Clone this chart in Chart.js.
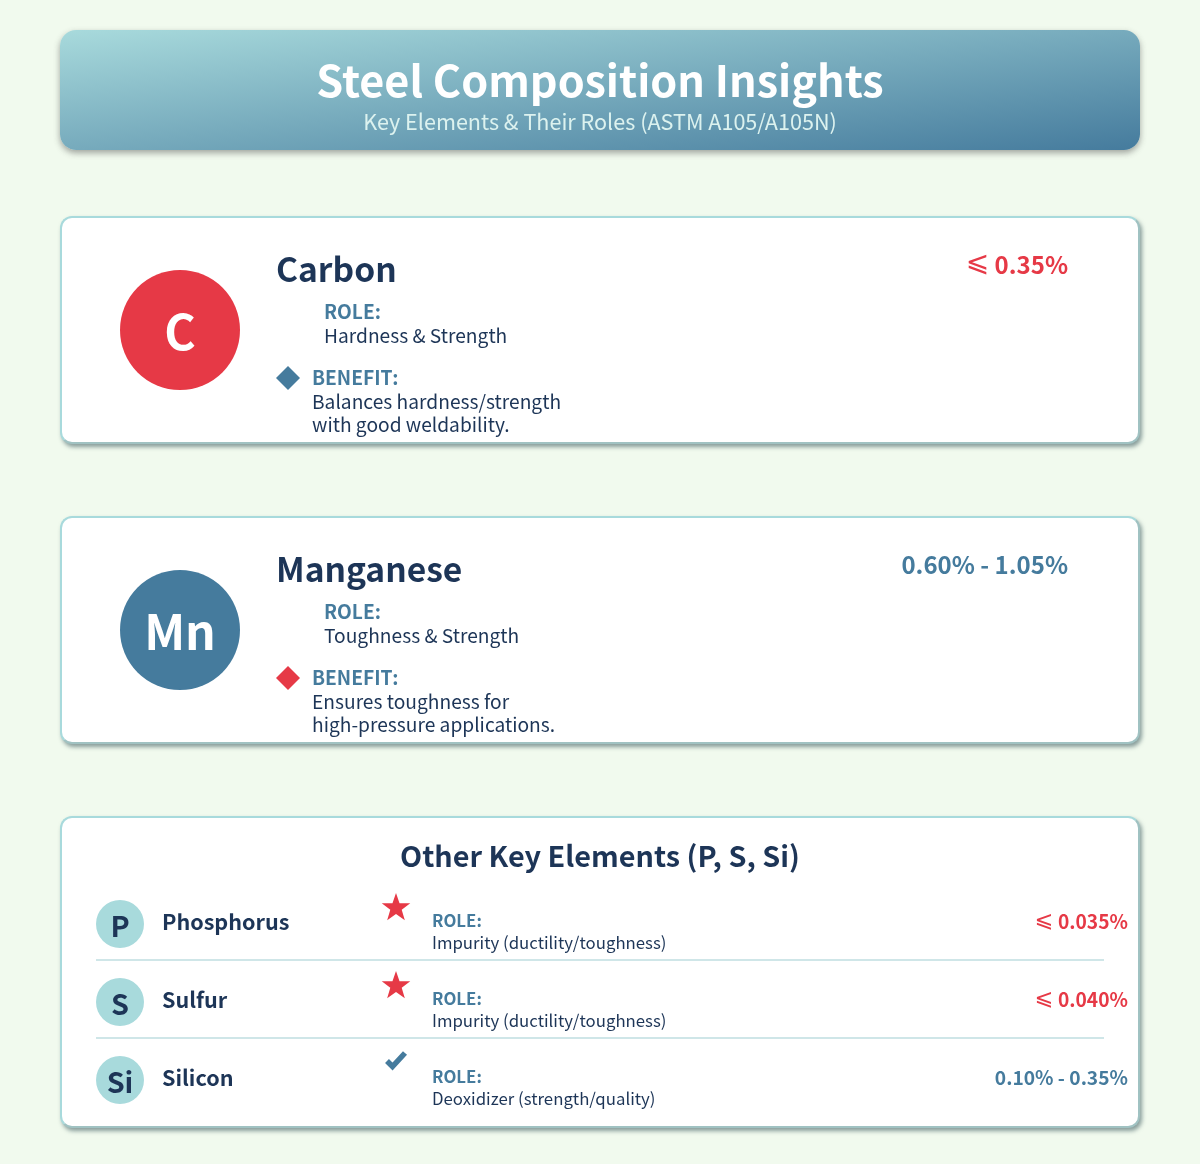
<!DOCTYPE html>
<html>
<head>
<meta charset="utf-8">
<title>Steel Composition Insights</title>
<script src="https://cdn.jsdelivr.net/npm/chart.js@4"></script>
<style>
html, body { margin: 0; padding: 0; }
body { width: 1200px; height: 1164px; position: relative; overflow: hidden; background: #f1faee;
       font-family: "Noto Sans CJK SC", "Noto Sans", sans-serif; color: #1d3557; }
#marks { position: absolute; left: 0; top: 0; width: 1200px; height: 1164px; pointer-events: none; }
.t { position: absolute; white-space: nowrap; line-height: 1; z-index: 2; }
.slot { position: absolute; }
.le { font-family: "DejaVu Sans", sans-serif; font-weight: 400; font-size: 1.17em; line-height: 0; position: relative; top: -0.09em; }

.header { position: absolute; left: 60px; top: 30px; width: 1080px; height: 120px; border-radius: 16px;
          background: linear-gradient(to bottom right, #a8dadc 0%, #457b9d 100%); box-shadow: 0 3px 6px rgba(60,60,60,.45); }
.title { left: 0; width: 1200px; text-align: center; font-size: 43.2px; font-weight: 700; color: #fff; }
.subtitle { left: 0; width: 1200px; text-align: center; font-size: 21.6px; color: #dcf2ef; }

.card { position: absolute; left: 60px; width: 1076px; background: #fff; border: 2px solid #a8dadc; border-right-color: #a0c2c2;
        border-bottom-color: #a0c2c2; border-radius: 12px; box-shadow: 2px 3px 4px rgba(50,80,85,.55); }
.c0 { top: 216px; height: 224px; } .c1 { top: 516px; height: 224px; } .c2 { top: 816px; height: 308px; }

.disc { left: 120px; width: 120px; height: 120px; }
.sym { left: 120px; width: 120px; text-align: center; font-size: 48px; font-weight: 700; color: #fff; }
.name { left: 276px; font-size: 33.6px; font-weight: 700; }
.range { right: 132px; font-size: 24px; font-weight: 700; }
.label { font-size: 19.2px; font-weight: 700; color: #457b9d; }
.text { font-size: 19.2px; color: #1d3557; }
.role { left: 324px; }
.benefit { left: 312px; }
.bullet { left: 276px; width: 24px; height: 24px; }

.other { left: 0; width: 1200px; text-align: center; font-size: 28.8px; font-weight: 700; }
.rdisc { left: 96px; width: 48px; height: 48px; }
.rsym { left: 96px; width: 48px; text-align: center; font-size: 28.8px; font-weight: 700; }
.rname { left: 162px; font-size: 21.6px; font-weight: 700; }
.rmark { left: 381px; width: 30px; height: 30px; }
.rlabel { left: 432px; font-size: 16.8px; font-weight: 700; color: #457b9d; }
.rtext { left: 432px; font-size: 16.8px; color: #1d3557; }
.rrange { right: 72px; font-size: 19.2px; font-weight: 700; }
.rule { position: absolute; left: 96px; width: 1008px; height: 2px; background: #cfe6e8; }
</style>
</head>
<body>
<div class="header"></div>
<div class="card c0"></div>
<div class="card c1"></div>
<div class="card c2"></div>
<canvas id="marks" width="1200" height="1164"></canvas>
<div id="page"></div>

<script>
// DATA
const pageTitle = 'Steel Composition Insights';
const pageSubtitle = 'Key Elements & Their Roles (ASTM A105/A105N)';
const otherTitle = 'Other Key Elements (P, S, Si)';

const mainNames = ['Carbon', 'Manganese'];
const mainSymbols = ['C', 'Mn'];
const mainRanges = ['⩽ 0.35%', '0.60% - 1.05%'];
const mainRoles = ['Hardness & Strength', 'Toughness & Strength'];
const mainBenefits = [
    ['Balances hardness/strength', 'with good weldability.'],
    ['Ensures toughness for', 'high-pressure applications.']
];
const mainColors = ['#e63946', '#457b9d'];
const bulletColors = ['#457b9d', '#e63946'];

const otherNames = ['Phosphorus', 'Sulfur', 'Silicon'];
const otherSymbols = ['P', 'S', 'Si'];
const otherRanges = ['⩽ 0.035%', '⩽ 0.040%', '0.10% - 0.35%'];
const otherRoles = ['Impurity (ductility/toughness)', 'Impurity (ductility/toughness)', 'Deoxidizer (strength/quality)'];
const otherMarks = ['star', 'star', 'check'];

// LAYOUT (vertical steps of the repeated blocks)
const cardStep = 300;
const rowStep = 78;

const page = document.getElementById('page');

function addText(cls, text, top, color) {
    const el = document.createElement('div');
    el.className = 't ' + cls;
    el.style.top = top + 'px';
    if (color) el.style.color = color;
    if (text.startsWith('⩽')) {
        const le = document.createElement('span');
        le.className = 'le';
        le.textContent = '⩽';
        el.appendChild(le);
        el.appendChild(document.createTextNode(text.slice(1)));
    } else {
        el.textContent = text;
    }
    page.appendChild(el);
}

function addSlot(cls, top) {
    const el = document.createElement('div');
    el.className = 'slot ' + cls;
    el.style.top = top + 'px';
    page.appendChild(el);
    return el;
}

addText('title', pageTitle, 57);
addText('subtitle', pageSubtitle, 110);

const discSlots = [];
const bulletSlots = [];
mainNames.forEach((name, i) => {
    const d = i * cardStep;
    discSlots.push(addSlot('disc', 270 + d));
    addText('sym', mainSymbols[i], 305 + d);
    addText('name', name, 251 + d);
    addText('range', mainRanges[i], 252 + d, mainColors[i]);
    addText('label role', 'ROLE:', 302 + d);
    addText('text role', mainRoles[i], 325.5 + d);
    bulletSlots.push(addSlot('bullet', 366 + d));
    addText('label benefit', 'BENEFIT:', 368 + d);
    mainBenefits[i].forEach((line, k) => {
        addText('text benefit', line, 391.5 + d + k * 23);
    });
});

addText('other', otherTitle, 841);
const rowDiscSlots = [];
const rowMarkSlots = [];
otherNames.forEach((name, i) => {
    const d = i * rowStep;
    rowDiscSlots.push(addSlot('rdisc', 900 + d));
    addText('rsym', otherSymbols[i], 911 + d);
    addText('rname', name, 910 + d);
    rowMarkSlots.push(addSlot('rmark', 892 + d));
    addText('rlabel', 'ROLE:', 912 + d);
    addText('rtext', otherRoles[i], 934 + d);
    addText('rrange', otherRanges[i], 912 + d, otherRanges[i].startsWith('⩽') ? '#e63946' : '#457b9d');
    if (i < otherNames.length - 1) {
        const rule = document.createElement('div');
        rule.className = 'rule';
        rule.style.top = 959 + d + 'px';
        page.appendChild(rule);
    }
});

// MARK SPRITES (Chart.js has no filled star or tick point style)
function starSprite() {
    const c = document.createElement('canvas');
    c.width = c.height = 30;
    const g = c.getContext('2d');
    g.fillStyle = '#e63946';
    g.beginPath();
    for (let k = 0; k < 10; k++) {
        const r = k % 2 ? 6 : 15;
        const a = -Math.PI / 2 + k * Math.PI / 5;
        g[k ? 'lineTo' : 'moveTo'](15 + r * Math.cos(a), 16 + r * Math.sin(a));
    }
    g.closePath();
    g.fill();
    return c;
}

function checkSprite() {
    const c = document.createElement('canvas');
    c.width = c.height = 30;
    const g = c.getContext('2d');
    g.strokeStyle = '#457b9d';
    g.lineWidth = 5.5;
    g.beginPath();
    g.moveTo(6, 13);
    g.lineTo(11.5, 18.5);
    g.lineTo(24, 5);
    g.stroke();
    return c;
}

const sprites = { star: starSprite(), check: checkSprite() };

// CHART ENGINE: every disc and bullet sits where its page slot is
function centre(el) {
    const r = el.getBoundingClientRect();
    return { x: r.left + r.width / 2, y: r.top + r.height / 2 };
}

function radius(el) {
    return el.getBoundingClientRect().width / 2;
}

new Chart(document.getElementById('marks'), {
    type: 'scatter',
    data: {
        datasets: [
            {
                label: 'Main elements',
                data: discSlots.map(centre),
                pointStyle: 'circle',
                pointRadius: discSlots.map(radius),
                backgroundColor: mainColors,
                borderWidth: 0
            },
            {
                label: 'Benefit bullets',
                data: bulletSlots.map(centre),
                pointStyle: 'rectRot',
                pointRadius: bulletSlots.map(radius),
                backgroundColor: bulletColors,
                borderWidth: 0
            },
            {
                label: 'Other elements',
                data: rowDiscSlots.map(centre),
                pointStyle: 'circle',
                pointRadius: rowDiscSlots.map(radius),
                backgroundColor: '#a8dadc',
                borderWidth: 0
            },
            {
                label: 'Other marks',
                data: rowMarkSlots.map(centre),
                pointStyle: otherMarks.map(m => sprites[m]),
                pointRadius: 15,
                borderWidth: 0
            }
        ]
    },
    options: {
        responsive: false,
        animation: false,
        events: [],
        layout: { padding: 0, autoPadding: false },
        clip: false,
        plugins: { legend: { display: false }, tooltip: { enabled: false }, title: { display: false } },
        scales: {
            x: { type: 'linear', display: false, min: 0, max: 1200 },
            y: { type: 'linear', display: false, min: 0, max: 1164, reverse: true }
        }
    }
});
</script>
</body>
</html>
